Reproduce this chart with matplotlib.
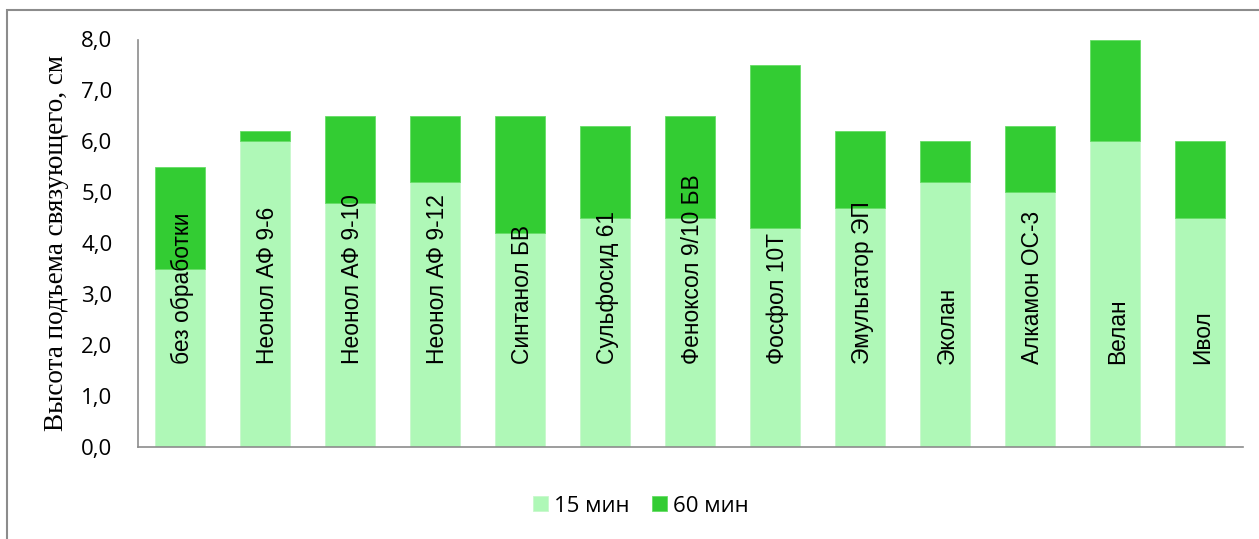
import matplotlib
matplotlib.use("Agg")
import matplotlib.pyplot as plt
from matplotlib.patches import Rectangle

# Treatments and binder rise height (cm) after 15 and 60 minutes
categories = ["без обработки", "Неонол АФ 9-6", "Неонол АФ 9-10", "Неонол АФ 9-12",
              "Синтанол БВ", "Сульфосид 61", "Феноксол 9/10 БВ", "Фосфол 10Т",
              "Эмульгатор ЭП", "Эколан", "Алкамон ОС-3", "Велан", "Ивол"]
h15 = [3.5, 6.0, 4.8, 5.2, 4.2, 4.5, 4.5, 4.3, 4.7, 5.2, 5.0, 6.0, 4.5]
h60 = [5.5, 6.2, 6.5, 6.5, 6.5, 6.3, 6.5, 7.5, 6.2, 6.0, 6.3, 8.0, 6.0]
yticks = [0, 1, 2, 3, 4, 5, 6, 7, 8]

c15 = "#AFF8B7"
c60 = "#33CC33"
sans = ["Open Sans", "DejaVu Sans"]

W, H = 1259, 539
fig = plt.figure(figsize=(W / 100, H / 100), dpi=100)
ax = fig.add_axes([137.5 / W, 1 - 447 / H, (1242.5 - 137.5) / W, (447 - 39.5) / H])

x = list(range(len(categories)))
inc = [b - a for a, b in zip(h15, h60)]
ax.bar(x, h15, width=0.58, color=c15, edgecolor="#C8F8CC", linewidth=0.6, label="15 мин", zorder=2)
ax.bar(x, inc, bottom=h15, width=0.58, color=c60, edgecolor="#66DD66", linewidth=0.6, label="60 мин", zorder=2)

for xi, name in zip(x, categories):
    ax.text(xi + 0.03, 1.62, name, rotation=90, ha="center", va="bottom",
            fontsize=16.4, family=["Liberation Sans", "DejaVu Sans"], color="black", zorder=3)

ax.set_xlim(-0.5, len(categories) - 0.5)
ax.set_ylim(0, 8)
ax.set_yticks(yticks)
ax.set_yticklabels([f"{v:.1f}".replace(".", ",") for v in yticks], family=sans, fontsize=16)
ax.set_xticks([])
ax.tick_params(axis="y", length=0, pad=18)
for s in ("top", "right"):
    ax.spines[s].set_visible(False)
for s in ("left", "bottom"):
    ax.spines[s].set_color("#8C8C8C")
    ax.spines[s].set_linewidth(1.2)

ax.set_ylabel("Высота подъема связующего, см", family="Liberation Serif", fontsize=19.5)
ax.yaxis.set_label_coords(69 / W, 1 - 243 / H, transform=fig.transFigure)

fig.legend(loc="center", bbox_to_anchor=(641 / W, 1 - 506 / H), ncol=2, frameon=False,
           prop={"family": sans, "size": 16}, handlelength=0.68, handleheight=0.68,
           handletextpad=0.28, columnspacing=1.0)

fig.patches.append(Rectangle((7 / W, -0.05), 1.1, 1.05 - 10 / H, transform=fig.transFigure,
                             fill=False, edgecolor="#8C8C8C", linewidth=1.5))

fig.savefig("out.png", dpi=100)
